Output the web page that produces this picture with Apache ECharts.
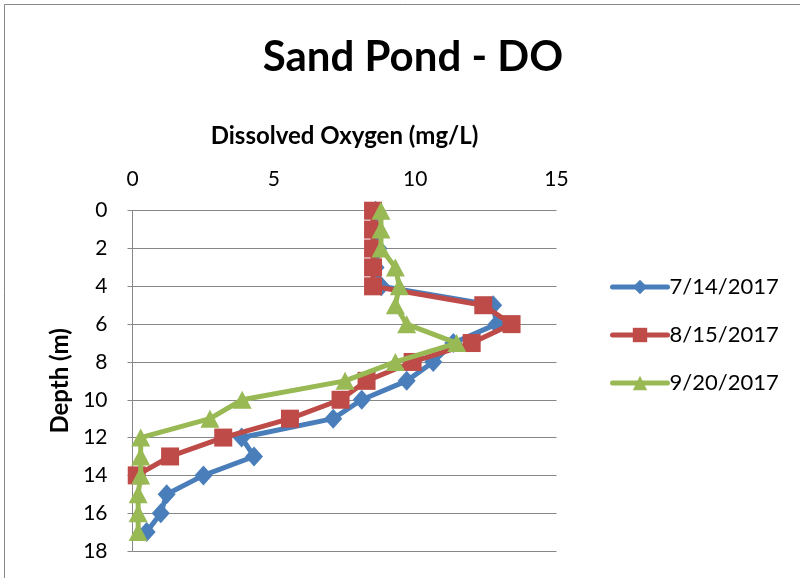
<!DOCTYPE html>
<html>
<head>
<meta charset="utf-8">
<script src="https://cdn.jsdelivr.net/npm/echarts@6/dist/echarts.min.js"></script>
<style>
  html, body { margin: 0; padding: 0; background: #fff; }
  #chart { width: 800px; height: 578px; }
</style>
</head>
<body>
<div id="chart"></div>
<script>
// Sampling depths (m) and dissolved oxygen profiles (mg/L) for each survey date
const depths = [0, 1, 2, 3, 4, 5, 6, 7, 8, 9, 10, 11, 12, 13, 14, 15, 16, 17];
const do_0714 = [8.6, 8.6, 8.7, 8.6, 8.8, 12.76, 12.88, 11.35, 10.64, 9.70, 8.11, 7.10, 3.86, 4.30, 2.51, 1.21, 1.00, 0.50];
const do_0815 = [8.51, 8.51, 8.51, 8.51, 8.51, 12.41, 13.41, 12.00, 9.91, 8.28, 7.36, 5.57, 3.21, 1.33, 0.15];
const do_0920 = [8.79, 8.79, 8.79, 9.30, 9.44, 9.30, 9.70, 11.47, 9.30, 7.52, 3.88, 2.74, 0.29, 0.29, 0.29, 0.20, 0.20, 0.20];
const seriesNames = ['7/14/2017', '8/15/2017', '9/20/2017'];
const xTicks = [0, 5, 10, 15];
const yTicks = [0, 2, 4, 6, 8, 10, 12, 14, 16, 18];

const FONT = 'Lato, "Liberation Sans", sans-serif';

function pairs(values) {
  return values.map((v, i) => [v, depths[i]]);
}

const chart = echarts.init(document.getElementById('chart'), null, { renderer: 'canvas' });

const option = {
  animation: false,
  backgroundColor: '#ffffff',
  title: {
    text: 'Sand Pond - DO',
    left: 408,
    top: 31,
    textAlign: 'center',
    textStyle: { fontFamily: FONT, fontWeight: 'bold', fontSize: 42, color: '#000' }
  },
  graphic: [{
    type: 'rect',
    shape: { x: 4.5, y: 4.5, width: 900, height: 900 },
    style: { fill: 'none', stroke: '#878787', lineWidth: 1 },
    silent: true
  }],
  legend: {
    orient: 'vertical',
    left: 610,
    top: 276,
    padding: 0,
    itemWidth: 55,
    itemHeight: 18,
    itemGap: 26,
    data: seriesNames,
    lineStyle: { width: 5, cap: 'round' },
    textStyle: { fontFamily: FONT, fontSize: 22, color: '#000', padding: [0, 0, 0, -3] }
  },
  grid: {
    left: 132.5,
    right: 243.5,
    top: 210.7,
    bottom: 27,
    containLabel: false
  },
  xAxis: {
    type: 'value',
    position: 'top',
    min: 0,
    max: 15,
    interval: 5,
    name: 'Dissolved Oxygen (mg/L)',
    nameLocation: 'middle',
    nameGap: 62,
    nameTextStyle: { fontFamily: FONT, fontWeight: 'bold', fontSize: 24, color: '#000' },
    axisLine: { show: false },
    axisTick: { show: false },
    splitLine: { show: false },
    axisLabel: {
      fontFamily: FONT, fontSize: 21, color: '#000', margin: 21,
      formatter: v => (xTicks.indexOf(v) >= 0 ? String(v) : '')
    }
  },
  yAxis: {
    type: 'value',
    inverse: true,
    min: 0,
    max: 18,
    interval: 2,
    name: 'Depth (m)',
    nameLocation: 'middle',
    nameGap: 60,
    nameRotate: 90,
    nameTextStyle: { fontFamily: FONT, fontWeight: 'bold', fontSize: 24, color: '#000' },
    axisLine: { show: true, lineStyle: { color: '#878787', width: 1 } },
    axisTick: { show: true, length: 5, lineStyle: { color: '#878787' } },
    splitLine: { show: true, lineStyle: { color: '#878787', width: 1 } },
    axisLabel: {
      fontFamily: FONT, fontSize: 21, color: '#000', margin: 25,
      formatter: v => (yTicks.indexOf(v) >= 0 ? String(v) : '')
    }
  },
  series: [
    {
      name: seriesNames[0],
      type: 'line',
      data: pairs(do_0714),
      color: '#4a7ebb',
      lineStyle: { width: 5, color: '#4a7ebb' },
      symbol: 'diamond',
      symbolSize: [18, 20],
      itemStyle: { color: '#4a7ebb' },
      z: 2
    },
    {
      name: seriesNames[1],
      type: 'line',
      data: pairs(do_0815),
      color: '#be4b48',
      lineStyle: { width: 5, color: '#be4b48' },
      symbol: 'rect',
      symbolSize: 18,
      itemStyle: { color: '#be4b48' },
      z: 3
    },
    {
      name: seriesNames[2],
      type: 'line',
      data: pairs(do_0920),
      color: '#98b954',
      lineStyle: { width: 5, color: '#98b954' },
      symbol: 'triangle',
      symbolSize: [19, 18],
      itemStyle: { color: '#98b954' },
      z: 4
    }
  ]
};

chart.setOption(option);
</script>
</body>
</html>
